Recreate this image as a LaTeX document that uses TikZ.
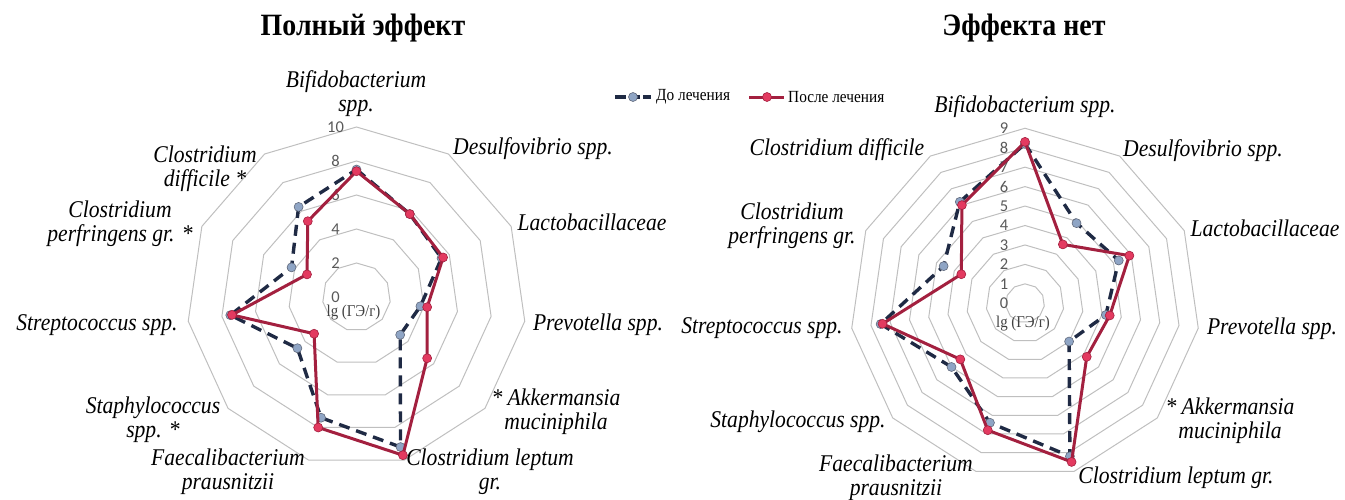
\documentclass[tikz,border=0pt]{standalone}
\usepackage{fontspec}
\setmainfont{Liberation Serif}[FakeStretch=0.9]
\newfontfamily\numfont{Carlito}
\usepackage{tikz}

\definecolor{gridgray}{HTML}{BFBFBF}
\definecolor{numgray}{HTML}{595959}
\definecolor{beforeline}{HTML}{1F2A44}
\definecolor{beforefill}{HTML}{8FA5C5}
\definecolor{afterline}{HTML}{A3203F}
\definecolor{afterfill}{HTML}{E33A60}

\tikzset{
  grid line/.style={draw=gridgray, line width=1pt},
  ring num/.style={font=\numfont\fontsize{16.5}{16.5}\selectfont, text=numgray, inner sep=0pt},
  unit lbl/.style={font=\fontsize{16.5}{16.5}\selectfont, text=black!75, inner sep=0pt},
  cat lbl/.style={font=\itshape\fontsize{24}{24}\selectfont, align=center, inner sep=0pt},
  chart title/.style={font=\bfseries\fontsize{31}{31}\selectfont, inner sep=0pt},
  legend txt/.style={font=\fontsize{17}{17}\selectfont, inner sep=0pt, anchor=west},
  before line/.style={draw=beforeline, line width=3.4pt, dash pattern=on 11pt off 7pt, line join=round},
  after line/.style={draw=afterline, line width=3pt, line join=round},
  before dot/.style={circle, fill=beforefill, draw=beforeline!70, line width=0.6pt, minimum size=9pt, inner sep=0pt},
  after dot/.style={circle, fill=afterfill, draw=afterline, line width=0.6pt, minimum size=9pt, inner sep=0pt}
}

\begin{document}
\begin{tikzpicture}[x=1pt,y=1pt]
\useasboundingbox (0,0) rectangle (1345,-499);

% titles
\node[chart title] (titleL) at (363,-28) {Полный эффект};
\node[chart title] (titleR) at (1024,-28) {Эффекта нет};

% legend
\coordinate (legA1) at (615,-97);
\coordinate (legA2) at (651,-97);
\draw[before line, dash pattern=on 11pt off 3pt] (legA1) -- (legA2);
\node[before dot] (legAdot) at (633,-97) {};
\node[legend txt] (legAtxt) at (656,-97) {До лечения};
\coordinate (legB1) at (749,-97);
\coordinate (legB2) at (784,-97);
\draw[after line] (legB1) -- (legB2);
\node[after dot] (legBdot) at (767,-97) {};
\node[legend txt] (legBtxt) at (788,-97) {После лечения};

% left chart
\begin{scope}[shift={(356.5,-297)}]
  \foreach \r in {2,4,...,10}
    \draw[grid line] (90:\r*17) \foreach \k in {1,...,10}{ -- ({90-\k*360/11}:\r*17)} -- cycle;
  \foreach \r in {0,2,...,10}
    \node[ring num] (numL\r) at (-21,\r*17) {\r};
  \node[unit lbl] (unitL) at (-3,-16) {lg (ГЭ/г)};
  \foreach \v [count=\i from 0] in {7.5,5.8,5.5,3.8,3.4,9.2,7.4,4.6,7.5,4.2,6.3}
    \coordinate (lb\i) at ({90-\i*360/11}:\v*17);
  \foreach \v [count=\i from 0] in {7.4,5.8,5.6,4.2,5.5,9.7,8.0,3.3,7.4,3.2,5.3}
    \coordinate (la\i) at ({90-\i*360/11}:\v*17);
  \draw[before line] (lb0) \foreach \i in {1,...,10}{ -- (lb\i)} -- cycle;
  \foreach \i in {0,...,10} \node[before dot] at (lb\i) {};
  \draw[after line] (la0) \foreach \i in {1,...,10}{ -- (la\i)} -- cycle;
  \foreach \i in {0,...,10} \node[after dot] at (la\i) {};
\end{scope}

\node[cat lbl] (bifL) at (356,-94) {Bifidobacterium\\spp.};
\node[cat lbl] (desL) at (533,-149) {Desulfovibrio spp.};
\node[cat lbl] (lacL) at (592,-222) {Lactobacillaceae};
\node[cat lbl] (preL) at (598,-325) {Prevotella spp.};
\node[cat lbl] (akkL) at (556,-412) {* Akkermansia\\muciniphila};
\node[cat lbl] (lepL) at (490,-472) {Clostridium leptum\\gr.};
\node[cat lbl] (faeL) at (228,-472) {Faecalibacterium\\prausnitzii};
\node[cat lbl] (staL) at (153,-420) {Staphylococcus\\spp. *};
\node[cat lbl] (strL) at (97,-325) {Streptococcus spp.};
\node[cat lbl] (perL) at (120,-224) {Clostridium\\perfringens gr. *};
\node[cat lbl] (difL) at (205,-169) {Clostridium\\difficile *};

% right chart
\begin{scope}[shift={(1025,-303.3)}]
  \foreach \r in {1,...,9}
    \draw[grid line] (90:\r*19.45) \foreach \k in {1,...,10}{ -- ({90-\k*360/11}:\r*19.45)} -- cycle;
  \foreach \r in {0,...,9}
    \node[ring num] (numR\r) at (-21,\r*19.45) {\r};
  \node[unit lbl] (unitR) at (-2,-20) {lg (ГЭ/г)};
  \foreach \v [count=\i from 0] in {8.2,4.9,5.3,4.2,3.0,8.2,6.4,5.0,7.5,4.6,6.2}
    \coordinate (rb\i) at ({90-\i*360/11}:\v*19.45);
  \foreach \v [count=\i from 0] in {8.3,3.6,5.9,4.4,4.2,8.5,6.8,4.4,7.4,3.6,6.0}
    \coordinate (ra\i) at ({90-\i*360/11}:\v*19.45);
  \draw[before line] (rb0) \foreach \i in {1,...,10}{ -- (rb\i)} -- cycle;
  \foreach \i in {0,...,10} \node[before dot] at (rb\i) {};
  \draw[after line] (ra0) \foreach \i in {1,...,10}{ -- (ra\i)} -- cycle;
  \foreach \i in {0,...,10} \node[after dot] at (ra\i) {};
\end{scope}

\node[cat lbl] (bifR) at (1025,-107) {Bifidobacterium spp.};
\node[cat lbl] (desR) at (1203,-151) {Desulfovibrio spp.};
\node[cat lbl] (lacR) at (1265,-228) {Lactobacillaceae};
\node[cat lbl] (preR) at (1272,-329) {Prevotella spp.};
\node[cat lbl] (akkR) at (1230,-421) {* Akkermansia\\muciniphila};
\node[cat lbl] (lepR) at (1176,-478) {Clostridium leptum gr.};
\node[cat lbl] (faeR) at (896,-478) {Faecalibacterium\\prausnitzii};
\node[cat lbl] (staR) at (798,-422) {Staphylococcus spp.};
\node[cat lbl] (strR) at (762,-328) {Streptococcus spp.};
\node[cat lbl] (perR) at (792,-226) {Clostridium\\perfringens gr.};
\node[cat lbl] (difR) at (837,-150) {Clostridium difficile};
\end{tikzpicture}
\end{document}
